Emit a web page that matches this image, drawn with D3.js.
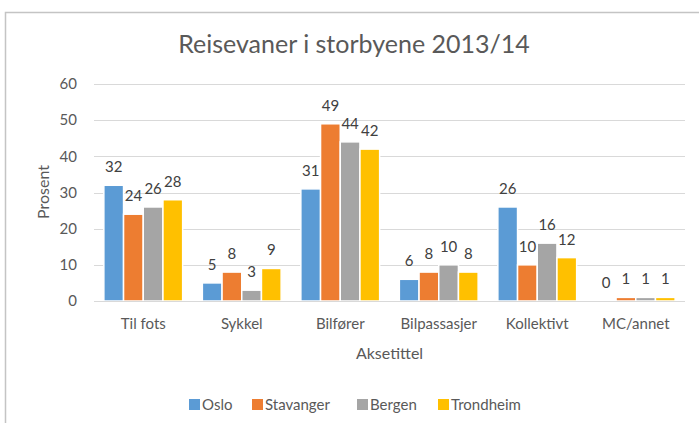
<!DOCTYPE html>
<html>
<head>
<meta charset="utf-8">
<script src="https://cdn.jsdelivr.net/npm/d3@7"></script>
<style>
  html, body { margin: 0; padding: 0; background: #fff; }
  svg { display: block; font-family: Lato, "Open Sans", sans-serif; }
</style>
</head>
<body>
<svg id="chart" width="699" height="423"></svg>
<script>
// Travel mode shares (%) per city
const categories = ["Til fots", "Sykkel", "Bilfører", "Bilpassasjer", "Kollektivt", "MC/annet"];
const cities = ["Oslo", "Stavanger", "Bergen", "Trondheim"];
const oslo      = [32, 5, 31, 6, 26, 0];
const stavanger = [24, 8, 49, 8, 10, 1];
const bergen    = [26, 3, 44, 10, 16, 1];
const trondheim = [28, 9, 42, 8, 12, 1];
const yTicks = [0, 10, 20, 30, 40, 50, 60];
const colors = ["#5B9BD5", "#ED7D31", "#A5A5A5", "#FFC000"];

const series = [oslo, stavanger, bergen, trondheim];
const rows = categories.map((c, i) => ({
  category: c,
  values: cities.map((city, j) => ({ city, value: series[j][i], color: colors[j] }))
}));

const svg = d3.select("#chart");
const margin = { left: 94, right: 14, top: 84, bottom: 122 };
const W = 699, H = 423;

// Chart frame
svg.append("path")
  .attr("d", "M5.5,423 V12.5 H699")
  .attr("fill", "none")
  .attr("stroke", "#c4c4c4")
  .attr("stroke-width", 1.5);

const x0 = d3.scaleBand()
  .domain(categories)
  .range([margin.left, W - margin.right])
  .paddingInner(0.2)
  .paddingOuter(0.1);

const x1 = d3.scaleBand()
  .domain(cities)
  .range([0, x0.bandwidth()])
  .padding(0);

const y = d3.scaleLinear()
  .domain([0, 60])
  .range([H - margin.bottom, margin.top]);

// Gridlines
svg.append("g")
  .selectAll("line")
  .data(yTicks)
  .join("line")
  .attr("x1", margin.left)
  .attr("x2", W - margin.right)
  .attr("y1", d => Math.round(y(d)) + 0.5)
  .attr("y2", d => Math.round(y(d)) + 0.5)
  .attr("stroke", "#d9d9d9")
  .attr("stroke-width", 1);

// Y axis labels
const yAxis = d3.axisLeft(y).tickValues(yTicks).tickSize(0).tickPadding(17);
const gy = svg.append("g")
  .attr("transform", `translate(${margin.left},0)`)
  .call(yAxis);
gy.select(".domain").remove();
gy.selectAll("text")
  .attr("fill", "#595959")
  .style("font-size", "15px")
  .style("font-family", "Lato, sans-serif");

// Bars
const groups = svg.append("g")
  .selectAll("g")
  .data(rows)
  .join("g")
  .attr("transform", d => `translate(${x0(d.category)},0)`);

groups.selectAll("rect")
  .data(d => d.values)
  .join("rect")
  .attr("x", d => x1(d.city))
  .attr("y", d => y(d.value))
  .attr("width", x1.bandwidth())
  .attr("height", d => y(0) - y(d.value))
  .attr("fill", d => d.color)
  .attr("stroke", "#fff")
  .attr("stroke-width", 1.5);

// Value labels
groups.selectAll("text")
  .data(d => d.values)
  .join("text")
  .attr("x", d => x1(d.city) + x1.bandwidth() / 2)
  .attr("y", d => y(d.value) - 13)
  .attr("text-anchor", "middle")
  .attr("fill", "#404040")
  .style("font-size", "15px")
  .text(d => d.value);

// X axis
const xAxis = d3.axisBottom(x0).tickSize(0).tickPadding(17);
const gx = svg.append("g")
  .attr("transform", `translate(0,${y(0)})`)
  .call(xAxis);
gx.select(".domain")
  .attr("stroke", "#d9d9d9")
  .attr("d", `M${margin.left},0.5H${W - margin.right}`);
gx.selectAll("text")
  .attr("fill", "#595959")
  .style("font-size", "15px")
  .style("font-family", "Lato, sans-serif");

// Title
svg.append("text")
  .attr("x", 354)
  .attr("y", 53)
  .attr("text-anchor", "middle")
  .attr("fill", "#595959")
  .style("font-size", "25px")
  .text("Reisevaner i storbyene 2013/14");

// Axis titles
svg.append("text")
  .attr("transform", `translate(49,192) rotate(-90)`)
  .attr("text-anchor", "middle")
  .attr("fill", "#595959")
  .style("font-size", "16px")
  .text("Prosent");

svg.append("text")
  .attr("x", (margin.left + W - margin.right) / 2)
  .attr("y", 359)
  .attr("text-anchor", "middle")
  .attr("fill", "#595959")
  .style("font-size", "16px")
  .text("Aksetittel");

// Legend
const legendX = [189, 252, 357, 438];
const legend = svg.append("g")
  .selectAll("g")
  .data(cities)
  .join("g")
  .attr("transform", (d, i) => `translate(${legendX[i]},399)`);
legend.append("rect")
  .attr("width", 11)
  .attr("height", 11)
  .attr("fill", (d, i) => colors[i]);
legend.append("text")
  .attr("x", 13)
  .attr("y", 11)
  .attr("fill", "#595959")
  .style("font-size", "15px")
  .text(d => d);
</script>
</body>
</html>
